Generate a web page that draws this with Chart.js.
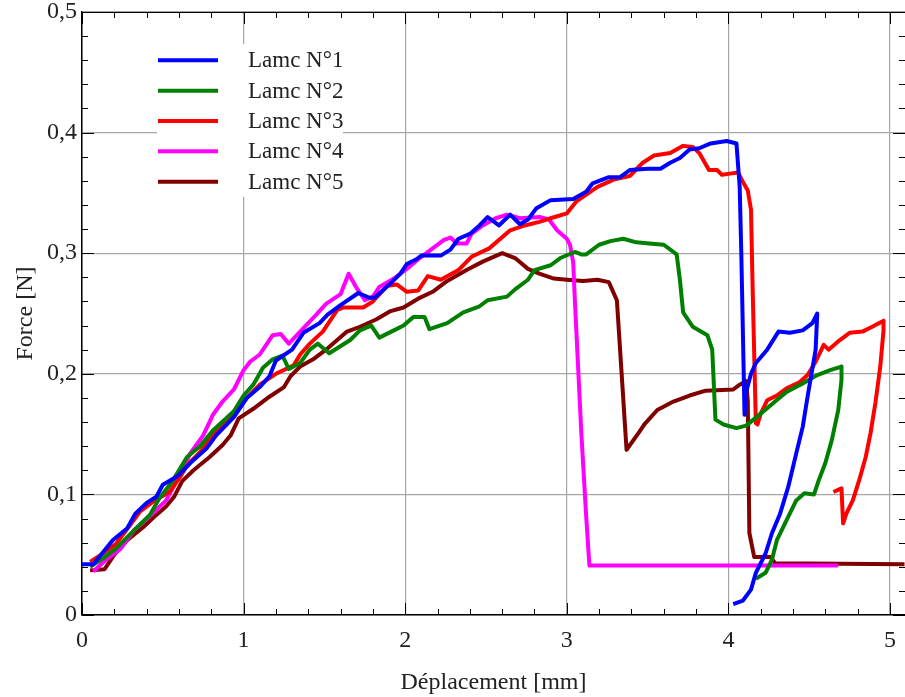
<!DOCTYPE html>
<html>
<head>
<meta charset="utf-8">
<title>Force - Déplacement</title>
<script src="https://cdn.jsdelivr.net/npm/chart.js@4.4.1/dist/chart.umd.min.js"></script>
<style>
html,body{
  margin:0;
  padding:0;
  background:#ffffff;
}
canvas{
  display:block;
}
</style>
</head>
<body>

<canvas id="forceChart" width="905" height="697"></canvas>

<script>
/* =========================================
   DATA
========================================= */

const seriesNames = [
  "Lamc N°1","Lamc N°2","Lamc N°3","Lamc N°4","Lamc N°5"
];

const seriesColors = [
  "#0000ff","#008000","#ff0000","#ff00ff","#800000"
];

const xTicks = [0,1,2,3,4,5];
const yTicks = [0,0.1,0.2,0.3,0.4,0.5];

/* Lamc N°1 */
const lamc1X = [
  0.00,0.07,0.13,0.19,0.28,0.33,0.40,0.46,0.50,0.59,0.67,0.77,0.83,0.94,
  1.02,1.10,1.16,1.20,1.30,1.37,1.47,1.52,1.60,1.71,1.78,1.81,1.91,1.97,
  2.01,2.07,2.10,2.22,2.28,2.33,2.40,2.46,2.51,2.58,2.65,2.71,2.76,2.81,
  2.90,3.04,3.12,3.16,3.26,3.33,3.39,3.50,3.58,3.64,3.70,3.76,3.82,3.89,
  3.99,4.05,4.07,4.08,4.10,4.11,4.14,4.17,4.24,4.31,4.38,4.46,4.52,4.55,
  4.54,4.49,4.46,4.42,4.37,4.32,4.27,4.23,4.17,4.14,4.09,4.03
];
const lamc1Y = [
  0.042,0.042,0.052,0.062,0.072,0.084,0.093,0.098,0.108,0.115,0.126,0.138,0.149,0.164,
  0.180,0.189,0.198,0.211,0.220,0.234,0.242,0.249,0.257,0.267,0.263,0.263,0.275,0.283,
  0.291,0.295,0.298,0.298,0.303,0.312,0.316,0.323,0.330,0.323,0.332,0.324,0.328,0.337,
  0.344,0.345,0.351,0.358,0.363,0.363,0.369,0.370,0.370,0.375,0.379,0.386,0.387,0.391,
  0.393,0.391,0.355,0.300,0.166,0.185,0.200,0.209,0.220,0.235,0.234,0.236,0.242,0.250,
  0.220,0.181,0.156,0.134,0.106,0.084,0.068,0.051,0.035,0.021,0.012,0.009
];

/* Lamc N°2 */
const lamc2X = [
  0.05,0.13,0.21,0.32,0.42,0.48,0.56,0.65,0.73,0.81,0.94,1.00,1.06,1.12,
  1.18,1.24,1.28,1.35,1.41,1.46,1.53,1.66,1.72,1.79,1.84,1.93,1.99,2.05,
  2.12,2.15,2.26,2.36,2.46,2.51,2.63,2.68,2.76,2.80,2.90,2.96,3.05,3.09,
  3.12,3.20,3.27,3.35,3.43,3.51,3.60,3.68,3.70,3.72,3.78,3.87,3.90,3.92,
  3.97,4.05,4.11,4.20,4.28,4.36,4.46,4.55,4.63,4.70,4.70,4.68,4.64,4.60,
  4.56,4.53,4.47,4.42,4.38,4.34,4.30,4.27,4.23,4.17
];
const lamc2Y = [
  0.040,0.047,0.055,0.070,0.083,0.097,0.111,0.131,0.140,0.153,0.169,0.182,0.191,0.205,
  0.212,0.215,0.204,0.209,0.220,0.225,0.217,0.228,0.236,0.240,0.230,0.236,0.240,0.247,
  0.247,0.237,0.242,0.251,0.256,0.261,0.264,0.270,0.278,0.286,0.290,0.296,0.301,0.299,
  0.299,0.307,0.310,0.312,0.309,0.308,0.307,0.299,0.278,0.251,0.239,0.232,0.220,0.162,
  0.158,0.155,0.157,0.167,0.176,0.185,0.192,0.199,0.203,0.206,0.195,0.170,0.145,0.126,
  0.112,0.100,0.101,0.095,0.084,0.073,0.062,0.046,0.035,0.030
];

/* Lamc N°3 */
const lamc3X = [
  0.05,0.13,0.21,0.30,0.36,0.44,0.54,0.61,0.65,0.73,0.81,0.90,0.96,1.02,
  1.10,1.20,1.31,1.35,1.41,1.49,1.58,1.62,1.74,1.80,1.89,1.95,2.01,2.08,
  2.14,2.22,2.33,2.41,2.52,2.65,2.74,2.83,2.90,3.00,3.06,3.19,3.29,3.39,
  3.47,3.54,3.64,3.72,3.78,3.82,3.88,3.93,3.96,4.01,4.06,4.09,4.12,4.14,
  4.15,4.17,4.18,4.20,4.24,4.30,4.36,4.44,4.49,4.54,4.59,4.62,4.69,4.75,
  4.83,4.89,4.96,4.96,4.94,4.91,4.88,4.85,4.81,4.77,4.73,4.71,4.70,4.65
];
const lamc3Y = [
  0.044,0.051,0.059,0.075,0.086,0.094,0.102,0.115,0.124,0.135,0.149,0.162,0.169,0.180,
  0.191,0.200,0.207,0.216,0.225,0.235,0.253,0.255,0.255,0.260,0.273,0.274,0.268,0.269,
  0.281,0.278,0.286,0.297,0.304,0.319,0.323,0.326,0.329,0.333,0.343,0.355,0.361,0.364,
  0.375,0.381,0.383,0.389,0.388,0.383,0.369,0.369,0.365,0.366,0.367,0.359,0.352,0.336,
  0.272,0.159,0.158,0.167,0.178,0.182,0.188,0.193,0.199,0.210,0.224,0.220,0.228,0.234,
  0.235,0.239,0.244,0.236,0.206,0.176,0.151,0.131,0.112,0.095,0.084,0.076,0.105,0.102
];

/* Lamc N°4 */
const lamc4X = [
  0.07,0.15,0.24,0.32,0.42,0.52,0.61,0.67,0.75,0.81,0.87,0.94,1.00,1.04,
  1.10,1.18,1.23,1.28,1.35,1.45,1.51,1.60,1.65,1.70,1.75,1.80,1.84,1.93,
  2.01,2.09,2.17,2.24,2.28,2.32,2.38,2.41,2.48,2.56,2.63,2.71,2.83,2.89,
  2.94,3.00,3.02,3.04,3.05,3.09,3.12,3.14,4.68
];
const lamc4Y = [
  0.036,0.046,0.055,0.070,0.082,0.095,0.117,0.134,0.149,0.166,0.177,0.187,0.203,0.210,
  0.216,0.232,0.233,0.225,0.235,0.249,0.258,0.266,0.283,0.271,0.261,0.264,0.272,0.279,
  0.287,0.296,0.304,0.311,0.313,0.308,0.308,0.316,0.323,0.329,0.332,0.329,0.330,0.328,
  0.319,0.312,0.307,0.292,0.261,0.151,0.082,0.041,0.041
];

/* Lamc N°5 */
const lamc5X = [
  0.05,0.14,0.20,0.28,0.38,0.46,0.52,0.57,0.62,0.69,0.79,0.87,0.92,0.97,
  1.06,1.16,1.25,1.29,1.35,1.43,1.51,1.64,1.72,1.82,1.91,1.99,2.09,2.17,
  2.26,2.38,2.48,2.60,2.68,2.76,2.83,2.92,3.00,3.10,3.19,3.26,3.31,3.37,
  3.45,3.48,3.56,3.66,3.76,3.86,4.03,4.07,4.11,4.12,4.13,4.16,4.26,4.29,
  5.09
];
const lamc5Y = [
  0.037,0.038,0.050,0.062,0.073,0.083,0.090,0.098,0.111,0.120,0.131,0.141,0.149,0.163,
  0.171,0.181,0.189,0.198,0.206,0.212,0.220,0.235,0.239,0.245,0.252,0.255,0.263,0.268,
  0.277,0.286,0.293,0.300,0.296,0.287,0.283,0.279,0.278,0.277,0.278,0.276,0.261,0.137,
  0.152,0.158,0.170,0.177,0.182,0.186,0.187,0.191,0.194,0.178,0.068,0.048,0.048,0.043,
  0.042
];

const seriesX = [lamc1X,lamc2X,lamc3X,lamc4X,lamc5X];
const seriesY = [lamc1Y,lamc2Y,lamc3Y,lamc4Y,lamc5Y];

/* =========================================
   HELPERS
========================================= */

function toPoints(xs, ys){

  return xs.map((x,i)=>({
    x:x,
    y:ys[i]
  }));

}

function virgule(v){

  if(v === 0){
    return "0";
  }

  return v.toFixed(1).replace(".",",");

}

const serif =
"'Liberation Serif','Times New Roman',serif";

/* =========================================
   FRAME, TICKS, LEGEND
========================================= */

const frameTicks = {

  id:"frameTicks",

  afterDatasetsDraw(chart){

    const c = chart.ctx;
    const a = chart.chartArea;
    const sx = chart.scales.x;
    const sy = chart.scales.y;

    c.save();

    c.strokeStyle = "#000";
    c.lineWidth = 1;

    c.beginPath();

    /* top frame */
    c.moveTo(a.left, Math.round(a.top)+0.5);
    c.lineTo(a.right, Math.round(a.top)+0.5);

    /* x ticks, bottom and top */
    for(let i=0;i<=25;i++){

      const px =
      Math.round(sx.getPixelForValue(i*0.2))+0.5;

      const len =
      i%5 === 0 ? 12 : 6;

      c.moveTo(px, a.bottom);
      c.lineTo(px, a.bottom-len);

      c.moveTo(px, a.top);
      c.lineTo(px, a.top+len);

    }

    /* y ticks, left and right */
    for(let i=0;i<=25;i++){

      const py =
      Math.round(sy.getPixelForValue(i*0.02))+0.5;

      const len =
      i%5 === 0 ? 12 : 6;

      c.moveTo(a.left, py);
      c.lineTo(a.left+len, py);

      c.moveTo(a.right, py);
      c.lineTo(a.right-len, py);

    }

    c.stroke();

    /* legend */
    const lx = a.left+75;
    const ly = a.top+32;

    c.fillStyle = "#ffffff";
    c.fillRect(lx, ly, 186, 153);

    c.font = "23px "+serif;
    c.textAlign = "left";
    c.textBaseline = "middle";

    chart.data.datasets.forEach((ds,i)=>{

      const y =
      a.top+48.3+i*30.35;

      c.strokeStyle = ds.borderColor;
      c.lineWidth = 4;

      c.beginPath();
      c.moveTo(a.left+76, y);
      c.lineTo(a.left+136, y);
      c.stroke();

      c.fillStyle = "#222";
      c.fillText(ds.label, a.left+166, y+1);

    });

    c.restore();

  }

};

/* =========================================
   CHART
========================================= */

const ctx =
document.getElementById(
  "forceChart"
);

const datasets =
seriesNames.map((name,i)=>({

  label:name,

  data:toPoints(seriesX[i], seriesY[i]),

  borderColor:seriesColors[i],

  backgroundColor:seriesColors[i],

  borderWidth:4,

  pointRadius:0,

  showLine:true,

  tension:0,

  borderJoinStyle:"round",

  fill:false

}));

const forceChart =
new Chart(ctx,{

  type:"scatter",

  data:{
    datasets:datasets
  },

  options:{

    responsive:false,

    animation:false,

    devicePixelRatio:1,

    layout:{
      padding:{top:12,right:0,bottom:0,left:0}
    },

    plugins:{
      legend:{display:false},
      tooltip:{enabled:false}
    },

    scales:{

      x:{
        type:"linear",
        min:0,
        max:5.093,

        afterBuildTicks(scale){
          scale.ticks =
          xTicks.map(v=>({value:v}));
        },

        afterFit(scale){
          scale.height = 82;
          scale.paddingLeft = 0;
          scale.paddingRight = 0;
        },

        grid:{
          color:"#a6a6a6",
          lineWidth:1.2,
          drawTicks:false
        },

        border:{
          display:true,
          color:"#000",
          width:1.5
        },

        ticks:{
          padding:11,
          maxRotation:0,
          color:"#222",
          font:{family:serif,size:24},
          callback:v=>String(v)
        },

        title:{
          display:true,
          text:"Déplacement [mm]",
          color:"#222",
          font:{family:serif,size:24},
          padding:{top:0,bottom:0}
        }
      },

      y:{
        type:"linear",
        min:0,
        max:0.5,

        afterBuildTicks(scale){
          scale.ticks =
          yTicks.map(v=>({value:v}));
        },

        afterFit(scale){
          scale.width = 82;
          scale.paddingTop = 0;
          scale.paddingBottom = 0;
        },

        grid:{
          color:"#a6a6a6",
          lineWidth:1.2,
          drawTicks:false
        },

        border:{
          display:true,
          color:"#000",
          width:1.5
        },

        ticks:{
          padding:5,
          color:"#222",
          font:{family:serif,size:24},
          callback:v=>virgule(v)
        },

        title:{
          display:true,
          text:"Force [N]",
          color:"#222",
          font:{family:serif,size:24},
          padding:{top:11,bottom:0}
        }
      }

    }

  },

  plugins:[frameTicks]

});
</script>
</body>
</html>
